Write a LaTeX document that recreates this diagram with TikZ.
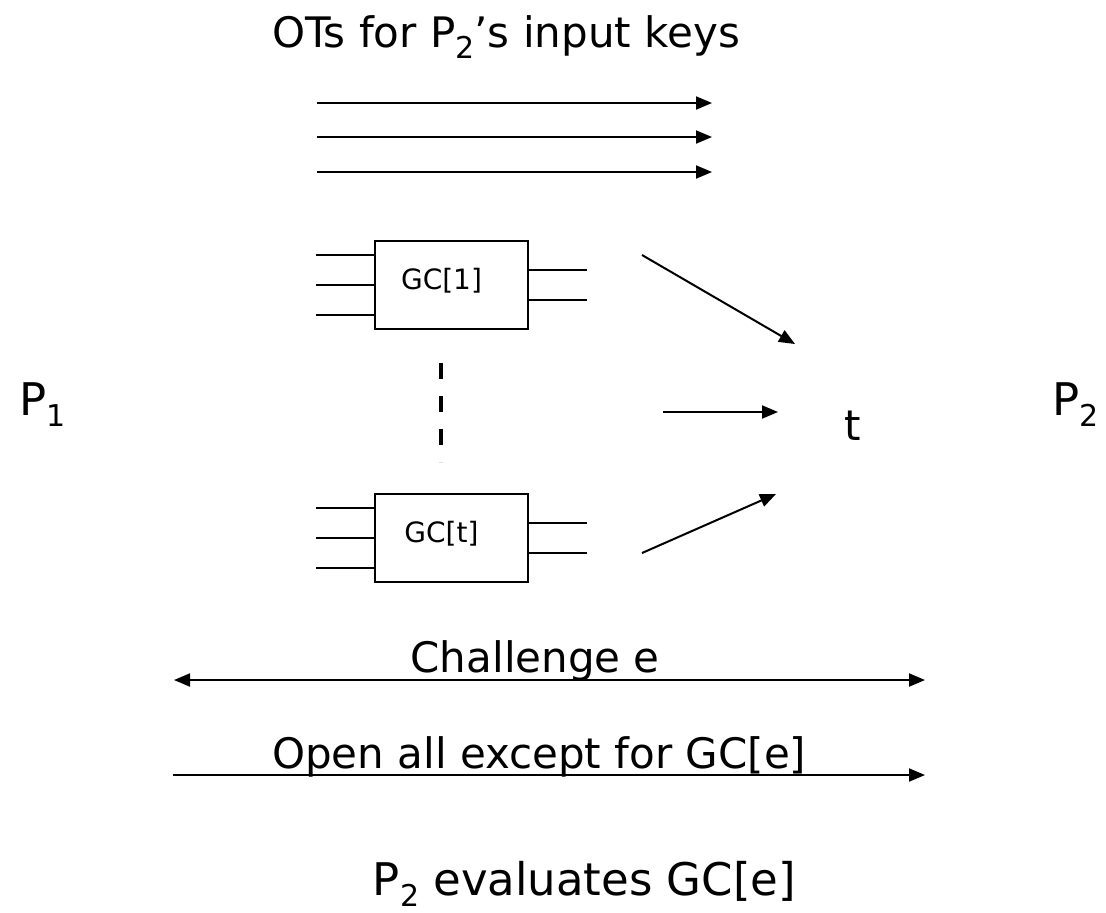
\documentclass[tikz,border=0pt]{standalone}
\usepackage{fontspec}
\setmainfont{DejaVu Sans}
\usetikzlibrary{arrows.meta, positioning}

\newcommand{\party}[1]{P\raisebox{-5.5pt}{\fontsize{15pt}{15pt}\selectfont #1}}

\begin{document}
\begin{tikzpicture}[x=0.5pt, y=-0.5pt, line width=1pt,
    >={Triangle[length=8pt,width=6.5pt]},
    font=\fontsize{21pt}{25pt}\selectfont,
    big/.style={font=\fontsize{22.5pt}{26pt}\selectfont, inner sep=0pt},
    gcbox/.style={draw, minimum width=76.5pt, minimum height=44pt, inner sep=0pt},
    gctext/.style={font=\fontsize{14pt}{16pt}\selectfont, xshift=-5pt, yshift=2pt},
    msg/.style={->},
    ellipsis/.style={line width=2pt, dash pattern=on 8pt off 8.5pt}]
    \useasboundingbox (0,0) rectangle (1106,912);

    \node[anchor=base]           (Title)     at (506,47)     {OTs for \party{2}’s input keys};
    \node[big, anchor=base west] (PartyOne)  at (18,415)     {\party{1}};
    \node[big, anchor=base east] (PartyTwo)  at (1100,415)   {\party{2}};
    \node[anchor=base]           (Tee)       at (853,440)    {t};
    \node[big, anchor=base]      (Evaluate)  at (584.5,895)  {\party{2} evaluates GC[e]};

    \node[gcbox, label={[gctext]center:GC[1]}]  (GCone) at (451.5,285) {};
    \node[gcbox, label={[gctext]center:GC[t]}]  (GCt)   at (451.5,538) {};

    % OTs
    \foreach \y [count=\i] in {103,137,172} {
        \coordinate (OTstart\i) at (317,\y);
        \coordinate (OTend\i)   at (712,\y);
        \draw[msg] (OTstart\i) -- (OTend\i);
    }

    % wires of the circuits
    \foreach \gc in {GCone, GCt} {
        \foreach \d in {-30,0,30}
            \draw (\gc.west) ++(0,\d) -- ++(-58,0);
        \foreach \d in {-15,15}
            \draw (\gc.east) ++(0,\d) -- ++(58,0);
    }
    \draw[ellipsis] ([xshift=-5.25pt,yshift=-16.5pt]GCone.south) -- ([xshift=-5.25pt,yshift=15.5pt]GCt.north);

    % commitments to t
    \coordinate (ComOne)   at (642,255);
    \coordinate (ComOneT)  at (795,344);
    \coordinate (ComMid)   at (663,412);
    \coordinate (ComMidT)  at (778,412);
    \coordinate (ComLast)  at (642,553);
    \coordinate (ComLastT) at (776,494);
    \draw[msg] (ComOne) -- (ComOneT);
    \draw[msg] (ComMid) -- (ComMidT);
    \draw[msg] (ComLast) -- (ComLastT);

    % challenge and opening
    \coordinate (ChalLeft)  at (174,680);
    \coordinate (ChalRight) at (925,680);
    \coordinate (OpenLeft)  at (173,775);
    \coordinate (OpenRight) at (925,775);
    \draw[<->] (ChalLeft) -- node[pos=0.481, anchor=base, yshift=4pt] {Challenge e} (ChalRight);
    \draw[msg] (OpenLeft) -- node[pos=0.487, anchor=base, yshift=3.5pt] {Open all except for GC[e]} (OpenRight);
\end{tikzpicture}
\end{document}
